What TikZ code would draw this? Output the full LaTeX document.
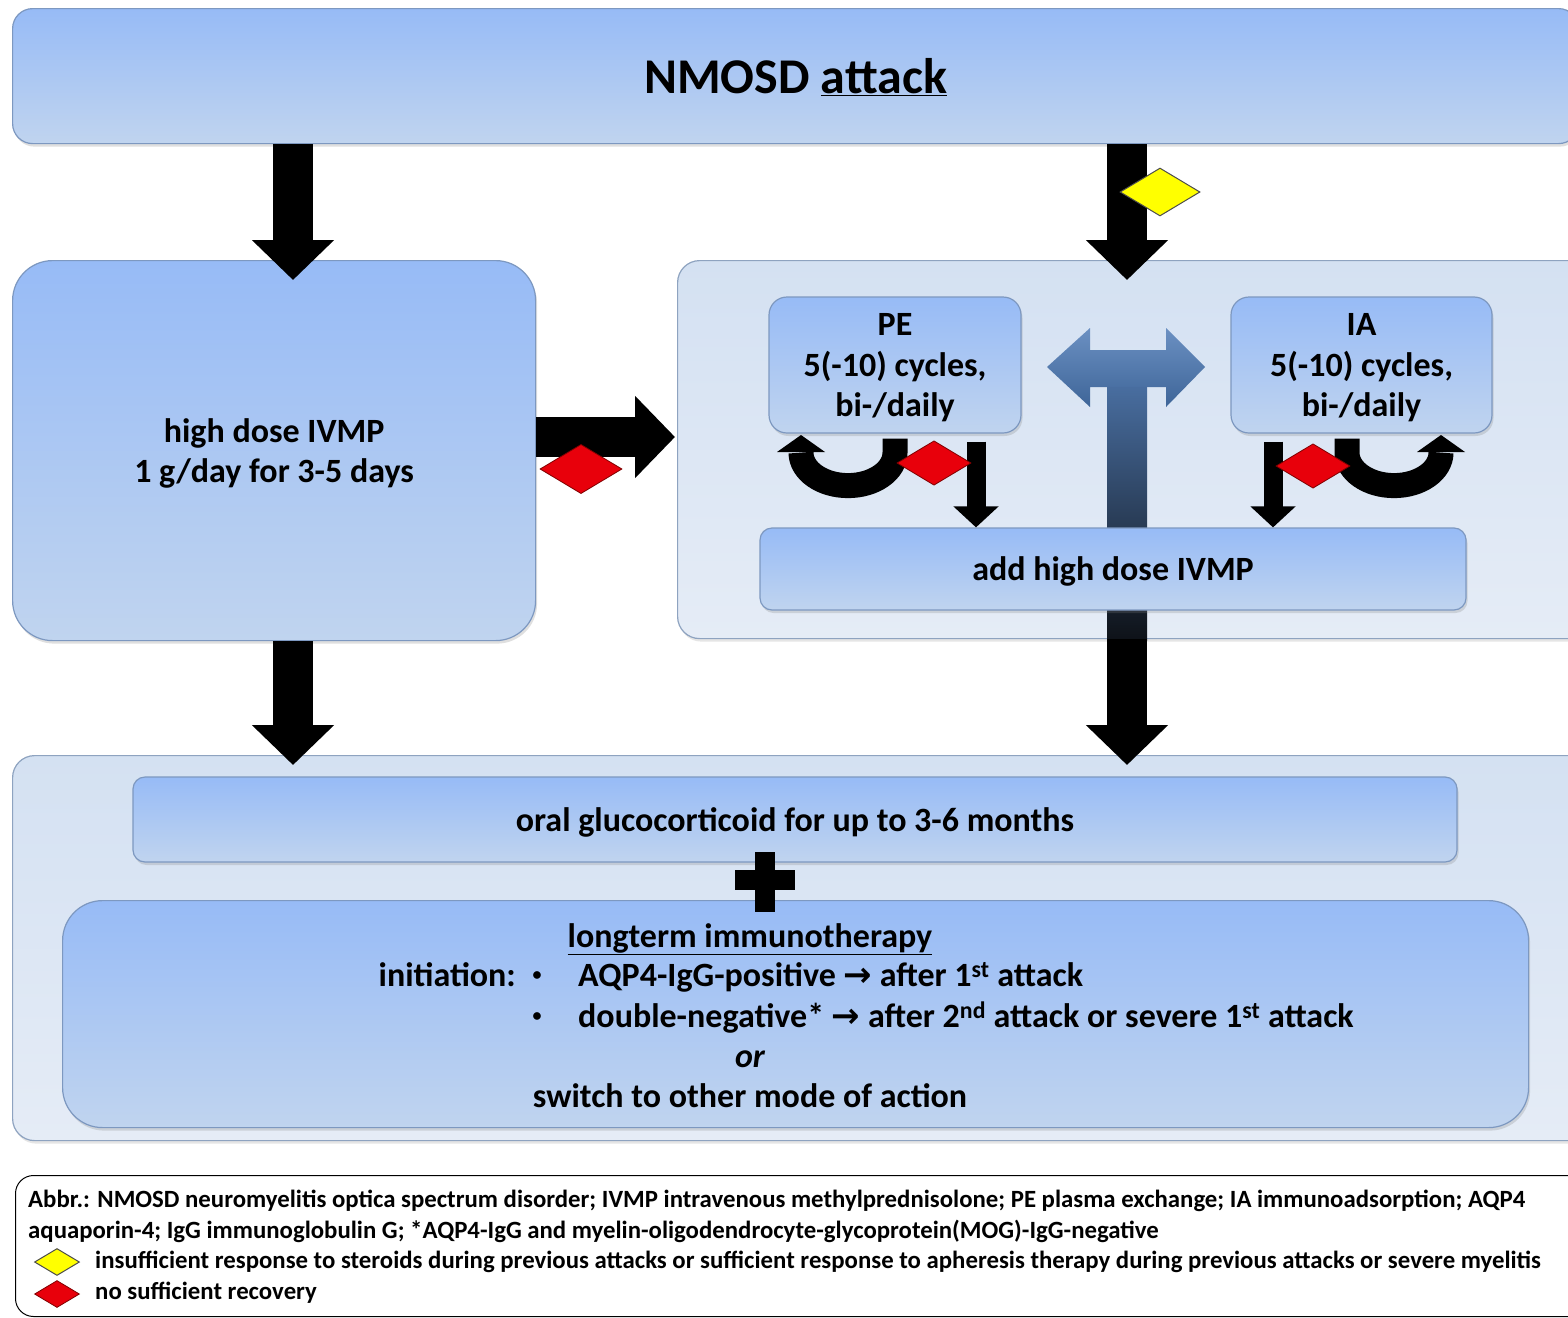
\documentclass[tikz,border=0pt]{standalone}
\usepackage{fontspec}
\setmainfont{Carlito}
\newfontfamily\symfont{DejaVu Sans}
\usetikzlibrary{arrows.meta,shapes.geometric,shadows,calc}
\definecolor{btop}{HTML}{97BBF6}
\definecolor{bbot}{HTML}{C0D4EF}
\definecolor{bdraw}{HTML}{7D98C0}
\definecolor{rtop}{HTML}{D4E1F2}
\definecolor{rbot}{HTML}{E5ECF6}
\definecolor{rdraw}{HTML}{8EA3C0}
\definecolor{dtop}{HTML}{6B90C2}
\definecolor{dbot}{HTML}{3E6598}
\definecolor{stemtop}{HTML}{4A70A3}
\definecolor{stembot}{HTML}{0E1218}
\definecolor{dred}{HTML}{E8000B}
\definecolor{dyel}{HTML}{FFFF00}
\begin{document}
\begin{tikzpicture}[x=1pt,y=-1pt,
  bluebox/.style={draw=bdraw, line width=1.2pt, top color=btop, bottom color=bbot,
    rounded corners=#1, inner sep=0pt, align=center, text depth=0pt,
    font=\fontsize{34}{40.5}\selectfont\bfseries,
    drop shadow={opacity=0.25,shadow xshift=1.5pt,shadow yshift=-3pt}},
  bluebox/.default=20,
  regbox/.style={draw=rdraw, line width=1.2pt, top color=rtop, bottom color=rbot,
    rounded corners=22, inner sep=0pt,
    drop shadow={opacity=0.2,shadow xshift=1.5pt,shadow yshift=-3pt}},
  txt/.style={inner sep=0pt, font=\fontsize{34}{40}\selectfont\bfseries},
  bul/.style={inner sep=0pt, font=\fontsize{18}{18}\selectfont\bfseries},
  legtxt/.style={inner sep=0pt, anchor=west, font=\fontsize{24.8}{28}\selectfont\bfseries},
  barrow/.style={line width=40pt, -{Triangle[length=40pt,width=80pt]}},
  sarrow/.style={line width=19pt, -{Triangle[length=21pt,width=44pt]}},
  reddia/.style={diamond, draw=red!50!black, line width=0.8pt, fill=dred, inner sep=0pt,
    minimum width=#1, minimum height=0.6*#1},
  yeldia/.style={diamond, draw=black!70, line width=1pt, fill=dyel, inner sep=0pt,
    minimum width=#1, minimum height=0.6*#1}
]
\clip (0,0) rectangle (1568,1317);
\fill[white] (0,0) rectangle (1568,1317);

% regions
\node[regbox, anchor=north west, minimum width=920, minimum height=378] (apher) at (677,260) {};
\node[regbox, anchor=north west, minimum width=1580, minimum height=385] (bottomreg) at (12,755) {};

% top box and left box
\node[bluebox, anchor=north west, minimum width=1566, minimum height=135,
  font=\fontsize{50}{60}\selectfont\bfseries] (top) at (12,8) {NMOSD \underline{attack}};
\node[bluebox=40, anchor=north west, minimum width=523, minimum height=380] (ivmp) at (12,260)
  {high dose IVMP\\1 g/day for 3-5 days};

% T-shaped double arrow
\shade[top color=stemtop, bottom color=stembot] (1107,380) rectangle (1147,640);
\shade[top color=dtop, bottom color=dbot] (1047,367) -- (1090,328) -- (1090,350) -- (1166,350)
  -- (1166,328) -- (1205,367) -- (1166,407) -- (1166,387) -- (1090,387) -- (1090,407) -- cycle;

% apheresis boxes
\node[bluebox=18, minimum width=252, minimum height=136] (pe) at (895,365)
  {PE\\5(-10) cycles,\\bi-/daily};
\node[bluebox=18, minimum width=261, minimum height=136] (ia) at (1361.5,365)
  {IA\\5(-10) cycles,\\bi-/daily};
\node[bluebox=12, minimum width=706, minimum height=82] (add) at (1113,569) {add high dose IVMP};

% bottom boxes
\node[bluebox=12, minimum width=1324, minimum height=85] (oral) at (795,819.5)
  {oral glucocorticoid for up to 3-6 months};
\node[bluebox=40, anchor=north west, minimum width=1466, minimum height=227] (longt) at (62,900) {};

\node[txt, anchor=mid] (lt1) at (750,945) {\underline{longterm immunotherapy}};
\node[txt, anchor=mid east] (lt2) at (516,984) {initiation:};
\node[bul] (b1) at (537,976) {\textbullet};
\node[txt, anchor=mid west] (lt3) at (578,984)
  {AQP4-IgG-positive {\symfont\bfseries →} after 1\textsuperscript{st} attack};
\node[bul] (b2) at (537,1017) {\textbullet};
\node[txt, anchor=mid west] (lt4) at (578,1025)
  {double-negative* {\symfont\bfseries →} after 2\textsuperscript{nd} attack or severe 1\textsuperscript{st} attack};
\node[txt, anchor=mid] (lt5) at (750,1065) {\itshape or};
\node[txt, anchor=mid] (lt6) at (750,1105) {switch to other mode of action};

% plus sign
\fill (755,852) rectangle (775,912);
\fill (735,870) rectangle (795,890);

% main block arrows
\coordinate (cL) at (293,0);
\coordinate (cR) at (1127,0);
\coordinate (cM) at (0,437);
\coordinate (cP) at (976,0);
\coordinate (cI) at (1273,0);
\draw[barrow] (cL |- top.south) -- ($(cL |- ivmp.north)+(0,20)$);
\draw[barrow] (cR |- top.south) -- ($(cR |- apher.north)+(0,20)$);
\draw[barrow] (ivmp.east |- cM) -- ($(apher.west |- cM)+(-2,0)$);
\draw[barrow] (cL |- ivmp.south) -- ($(cL |- bottomreg.north)+(0,10)$);
\draw[barrow] (cR |- apher.south) -- ($(cR |- bottomreg.north)+(0,10)$);

% small down arrows
\draw[sarrow] ($(cP |- pe.south)+(0,8)$) -- (cP |- add.north);
\draw[sarrow] ($(cI |- ia.south)+(0,8)$) -- (cI |- add.north);

% U-turn arrows
\draw[line width=25pt] ($(pe.south)+(0,5)$) -- ++(0,14)
  arc[start angle=0, end angle=180, x radius=47, y radius=33];
\fill (777,452) -- (801,435) -- (825,452) -- cycle;
\draw[line width=25pt] ($(ia.south)+(-14.5,5)$) -- ++(0,14)
  arc[start angle=180, end angle=0, x radius=47, y radius=33];
\fill (1417,452) -- (1441,435) -- (1465,452) -- cycle;

% diamonds
\node[yeldia=80] (yd) at (1160,192) {};
\node[reddia=82] (rd1) at (581,469) {};
\node[reddia=74] (rd2) at (934,463) {};
\node[reddia=74] (rd3) at (1313,466) {};

% legend
\node[draw=black, line width=1pt, rounded corners=18, anchor=north west, minimum width=1580,
  minimum height=141] (legend) at (15,1175) {};
\node[legtxt] (l1) at (28,1201) {Abbr.: NMOSD neuromyelitis optica spectrum disorder; IVMP intravenous methylprednisolone; PE plasma exchange; IA immunoadsorption; AQP4};
\node[legtxt] (l2) at (28,1231) {aquaporin-4; IgG immunoglobulin G; *AQP4-IgG and myelin-oligodendrocyte-glycoprotein(MOG)-IgG-negative};
\node[yeldia=45] (ly) at (57,1262) {};
\node[legtxt] (l3) at (95,1262) {insufficient response to steroids during previous attacks or sufficient response to apheresis therapy during previous attacks or severe myelitis};
\node[reddia=45] (lr) at (57,1294) {};
\node[legtxt] (l4) at (95,1293) {no sufficient recovery};
\end{tikzpicture}
\end{document}
